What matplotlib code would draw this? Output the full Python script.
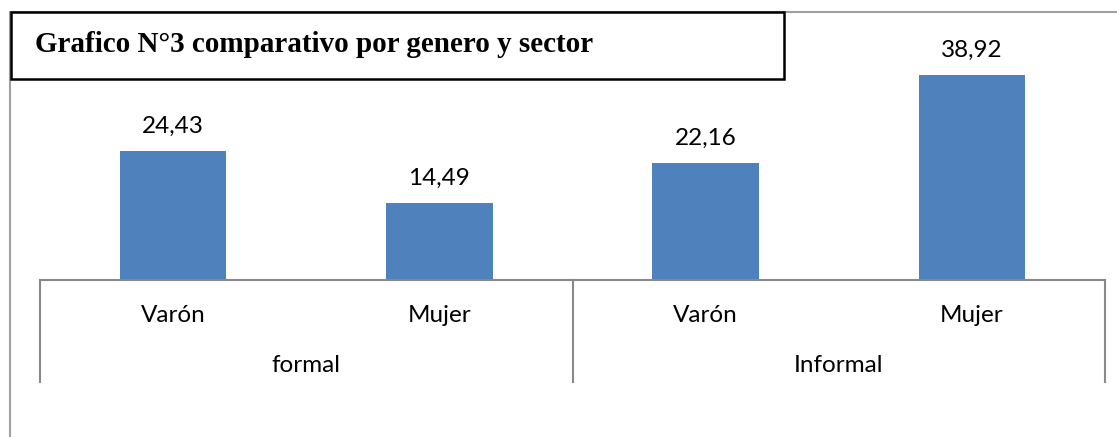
import matplotlib
matplotlib.use("Agg")
import matplotlib.pyplot as plt
from matplotlib.patches import Rectangle
from matplotlib.lines import Line2D
import matplotlib.transforms as mtransforms

categories = ["Varón", "Mujer", "Varón", "Mujer"]
groups = ["formal", "Informal"]
values = [24.43, 14.49, 22.16, 38.92]
value_labels = ["24,43", "14,49", "22,16", "38,92"]
title = "Grafico N°3 comparativo por genero y sector"

W, H = 1117, 437
fig = plt.figure(figsize=(W / 100, H / 100), dpi=100)
fig.patch.set_facecolor("white")

# axes placement in pixels
x0, x1 = 40, 1105
ybase = 279.5
ppu = 5.25
ymax = 45
ytop = ybase - ymax * ppu
ax = fig.add_axes([x0 / W, (H - ybase) / H, (x1 - x0) / W, (ybase - ytop) / H])
ax.set_xlim(-0.5, len(categories) - 0.5)
ax.set_ylim(0, ymax)
ax.set_facecolor("none")
for s in ["top", "right", "left"]:
    ax.spines[s].set_visible(False)
ax.spines["bottom"].set_color("#898989")
ax.spines["bottom"].set_linewidth(1.5)
ax.set_xticks([])
ax.set_yticks([])

font = "Lato"
xs = list(range(len(categories)))
ax.bar(xs, values, width=0.4, color="#4F81BD", zorder=2)
for x, v, lab in zip(xs, values, value_labels):
    ax.annotate(lab, (x, v), xytext=(0, 18), textcoords="offset points",
                ha="center", va="center", fontsize=17.5, family=font, color="black")

axh = ybase - ytop
trans = mtransforms.blended_transform_factory(ax.transData, ax.transAxes)
for x, lab in zip(xs, categories):
    ax.text(x, -(315 - ybase) / axh, lab, transform=trans, ha="center", va="center",
            fontsize=17.5, family=font, color="black")
n_per = len(categories) // len(groups)
for gi, g in enumerate(groups):
    xc = gi * n_per + (n_per - 1) / 2
    ax.text(xc, -(366 - ybase) / axh, g, transform=trans, ha="center", va="center",
            fontsize=17.5, family=font, color="black")
sep_bottom = -(382 - ybase) / axh
for sx in [-0.5 + k * n_per for k in range(len(groups) + 1)]:
    ax.add_line(Line2D([sx, sx], [0, sep_bottom], transform=trans, color="#898989",
                       lw=1.5, clip_on=False))

# outer frame (partial, cropped chart area)
def px(xp, yp):
    return xp / W, 1 - yp / H

fig.add_artist(Line2D([10 / W, 10 / W], [0, 1 - 12 / H], color="#a0a0a0", lw=1.5,
                      transform=fig.transFigure))
fig.add_artist(Line2D([10 / W, 1], [1 - 12 / H, 1 - 12 / H], color="#a0a0a0", lw=1.5,
                      transform=fig.transFigure))

# title box
bx0, by0, bx1, by1 = 11, 11.5, 784, 78.5
fig.add_artist(Rectangle((bx0 / W, 1 - by1 / H), (bx1 - bx0) / W, (by1 - by0) / H,
                         transform=fig.transFigure, facecolor="white",
                         edgecolor="black", lw=1.8, zorder=5))
fig.text(35 / W, 1 - 44 / H, title, ha="left", va="center", fontsize=21,
         fontweight="bold", family="Liberation Serif", color="black", zorder=6)

fig.savefig("out.png", dpi=100, facecolor="white")
